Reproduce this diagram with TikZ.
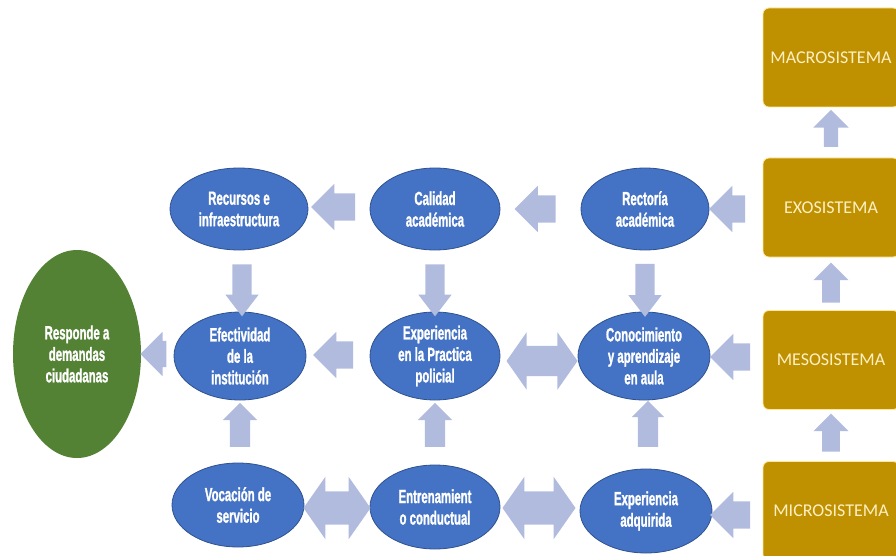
\documentclass[tikz,border=0pt]{standalone}
\usepackage{fontspec}
\setmainfont{Liberation Sans}
\newfontfamily\condf[FakeStretch=0.6,FakeBold=1.2]{Liberation Sans}
\newfontfamily\boxf{Carlito}
\usetikzlibrary{shapes.geometric,shapes.arrows}
\definecolor{ellblue}{HTML}{4472C4}
\definecolor{elledge}{HTML}{2F528F}
\definecolor{grn}{HTML}{548235}
\definecolor{gold}{HTML}{BF9000}
\definecolor{goldedge}{HTML}{FFE699}
\definecolor{boxtxt}{HTML}{FFF0C4}
\definecolor{arr}{HTML}{B0BBDE}
\tikzset{
  ell/.style={ellipse, fill=ellblue, draw=elledge, line width=0.8pt, inner sep=0pt,
    text=white, align=center, font=\condf\bfseries\fontsize{19}{21.5}\selectfont},
  grnell/.style={ellipse, fill=grn, draw=none, inner sep=0pt,
    text=white, align=center, font=\condf\bfseries\fontsize{19}{21.5}\selectfont},
  sysbox/.style={rectangle, rounded corners=6pt, fill=gold, draw=goldedge, line width=0.8pt,
    minimum width=136, minimum height=99, inner sep=0pt, text=boxtxt,
    font=\boxf\fontsize{18}{21}\selectfont},
  blk/.style={single arrow, fill=arr, draw=none, inner xsep=0pt, inner ysep=13.5pt,
    minimum width=46, single arrow head extend=9.5},
  harr/.style={blk, rotate=180},
  varr/.style={blk, inner ysep=9.5pt, minimum width=33, single arrow head extend=7, single arrow tip angle=75},
  darr/.style={double arrow, fill=arr, draw=none, inner xsep=0pt, inner ysep=15pt, minimum width=57,
    double arrow head extend=13.5, double arrow tip angle=110},
}
\begin{document}
\begin{tikzpicture}[x=1pt,y=-1pt]
\useasboundingbox (0,0) rectangle (896,556);
% ellipses
\node[ell, minimum width=138, minimum height=82] (rec) at (239,209) {Recursos e\\infraestructura};
\node[ell, minimum width=130, minimum height=82] (cal) at (435,209) {Calidad\\académica};
\node[ell, minimum width=128, minimum height=82] (rct) at (645,209) {Rectoría\\académica};
\node[ell, minimum width=132, minimum height=88] (efe) at (240,356) {Efectividad\\de la\\institución};
\node[ell, minimum width=130, minimum height=88] (exp) at (435,356) {Experiencia\\en la Practica\\policial};
\node[ell, minimum width=132, minimum height=88] (con) at (644,356) {Conocimiento\\y aprendizaje\\en aula};
\node[ell, minimum width=132, minimum height=84] (voc) at (238,505) {Vocación de\\servicio};
\node[ell, minimum width=130, minimum height=84] (ent) at (435,507) {Entrenamient\\o conductual};
\node[ell, minimum width=132, minimum height=84] (adq) at (646,511) {Experiencia\\adquirida};
\node[grnell, minimum width=128, minimum height=208] (resp) at (77,354) {Responde a\\demandas\\ciudadanas};
% system boxes
\node[sysbox] (macro) at (831,57.5) {MACROSISTEMA};
\node[sysbox] (exo) at (831,207.5) {EXOSISTEMA};
\node[sysbox] (meso) at (831,360) {MESOSISTEMA};
\node[sysbox] (micro) at (831,511) {MICROSISTEMA};
% left arrows
\node[harr, minimum height=44] (a1) at (340,207) {};
\node[harr, minimum height=41] (a2) at (542,209) {};
\node[harr, minimum height=36] (a3) at (734,209) {};
\node[harr, minimum height=40] (a4) at (340,355) {};
\node[harr, minimum height=26, minimum width=44, single arrow head extend=9, inner ysep=13pt] (a5) at (160,354) {};
\node[harr, minimum height=40] (a6) at (737,357) {};
\node[harr, minimum height=40] (a7) at (737,515) {};
% down arrows
\node[varr, rotate=-90, minimum height=52] (d1) at (242,284) {};
\node[varr, rotate=-90, minimum height=52] (d2) at (435,284) {};
\node[varr, rotate=-90, minimum height=53] (d3) at (645,284) {};
% up arrows
\node[varr, rotate=90, minimum height=44, inner ysep=10pt, minimum width=34, single arrow tip angle=90] (u1) at (240,430) {};
\node[varr, rotate=90, minimum height=44, inner ysep=10pt, minimum width=34, single arrow tip angle=90] (u2) at (435,430) {};
\node[varr, rotate=90, minimum height=46, inner ysep=10pt, minimum width=32, single arrow head extend=6, single arrow tip angle=90] (u3) at (648,429) {};
\node[varr, rotate=90, minimum height=38, inner ysep=8.5pt, minimum width=35, single arrow head extend=8.5, single arrow tip angle=90] (u4) at (831,437) {};
\node[varr, rotate=90, minimum height=40, inner ysep=8.5pt, minimum width=35, single arrow head extend=8.5, single arrow tip angle=90] (u5) at (831,287) {};
\node[varr, rotate=90, minimum height=37, inner ysep=7pt, minimum width=35, single arrow head extend=10.5, single arrow tip angle=90] (u6) at (831,132) {};
% double arrows
\node[darr, minimum height=71] (b1) at (542,361) {};
\node[darr, minimum height=67, minimum width=59, inner ysep=16.5pt, double arrow head extend=14.5] (b2) at (337,508) {};
\node[darr, minimum height=73, minimum width=59, inner ysep=16.5pt, double arrow head extend=14.5] (b3) at (539,508) {};
\end{tikzpicture}
\end{document}
